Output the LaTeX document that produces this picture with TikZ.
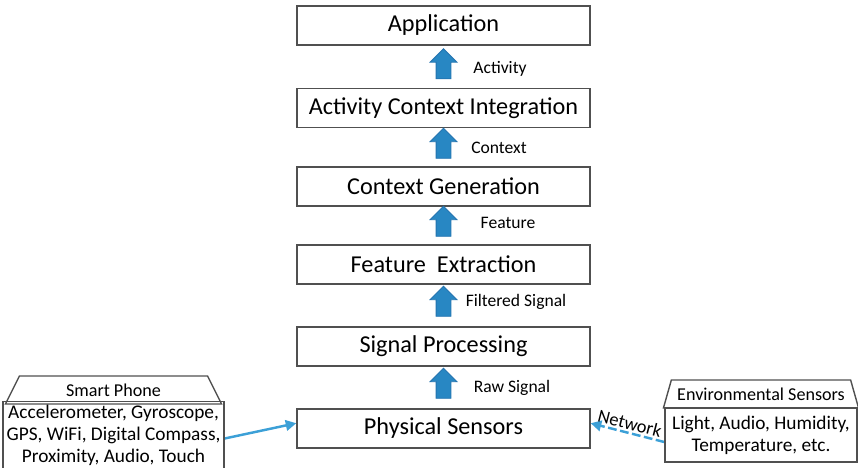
\documentclass[tikz,border=0pt]{standalone}
\usepackage{fontspec}
\setmainfont{Carlito}
\usetikzlibrary{backgrounds,shapes.geometric,shapes.arrows,arrows.meta}
\pgfdeclarelayer{edgelayer}
\pgfdeclarelayer{nodelayer}
\pgfsetlayers{edgelayer,nodelayer,main}
\definecolor{lineblue}{RGB}{60,160,215}
\definecolor{arrowmid}{RGB}{165,220,245}
\definecolor{arrowside}{RGB}{40,135,195}
\definecolor{arrowedge}{RGB}{35,115,175}
\definecolor{boxedge}{RGB}{80,80,80}
\tikzset{font=\fontsize{10}{12}\selectfont}
\tikzstyle{none}=[inner sep=0pt]
\tikzstyle{layer}=[rectangle,draw=boxedge,line width=0.8pt,minimum width=5.86cm,minimum height=0.78cm,font=\fontsize{13.8}{16}\selectfont]
\tikzstyle{flow}=[single arrow,shape border rotate=90,draw=arrowedge,line width=0.5pt,inner sep=0.14cm,single arrow head extend=0.12cm,minimum height=0.6cm,left color=arrowside,middle color=arrowmid,right color=arrowside]
\tikzstyle{tag}=[inner sep=1pt]
\tikzstyle{roof}=[trapezium,trapezium stretches=true,trapezium left angle=72,trapezium right angle=72,draw=boxedge,line width=0.8pt,minimum height=0.56cm,font=\fontsize{10.3}{12}\selectfont]
\tikzstyle{body}=[rectangle,draw=boxedge,line width=0.8pt,align=center,inner sep=2pt,font=\fontsize{11}{12.5}\selectfont]
\tikzstyle{link}=[draw=lineblue,line width=1.4pt,-{Triangle[length=6pt,width=6pt]}]

\begin{document}
\begin{tikzpicture}
	\useasboundingbox (0,0) rectangle (17.16,9.36);
	\begin{pgfonlayer}{nodelayer}
		\node [style=layer] (0) at (8.87, 8.85) {Application};
		\node [style=layer] (1) at (8.87, 7.2) {Activity Context Integration};
		\node [style=layer] (2) at (8.87, 5.63) {Context Generation};
		\node [style=layer] (3) at (8.87, 4.07) {Feature\ \ Extraction};
		\node [style=layer] (4) at (8.87, 2.43) {Signal Processing};
		\node [style=layer] (5) at (8.87, 0.79) {Physical Sensors};
		\node [style=flow] (6) at (8.87, 8.01) {};
		\node [style=flow] (7) at (8.87, 6.42) {};
		\node [style=flow] (8) at (8.87, 4.86) {};
		\node [style=flow] (9) at (8.87, 3.26) {};
		\node [style=flow] (10) at (8.87, 1.62) {};
		\node [style=tag] (11) at (10.0, 7.98) {Activity};
		\node [style=tag] (12) at (9.98, 6.4) {Context};
		\node [style=tag] (13) at (10.16, 4.9) {Feature};
		\node [style=tag] (14) at (10.32, 3.32) {Filtered Signal};
		\node [style=tag] (15) at (10.24, 1.6) {Raw Signal};
		\node [style=roof,minimum width=4.34cm] (16) at (2.27, 1.56) {Smart Phone};
		\node [style=body,minimum width=4.34cm,minimum height=1.24cm] (17) at (2.27, 0.66) {Accelerometer, Gyroscope,\\GPS, WiFi, Digital Compass,\\Proximity, Audio, Touch};
		\node [style=roof,minimum width=3.84cm] (18) at (15.22, 1.48) {Environmental Sensors};
		\node [style=body,minimum width=3.84cm,minimum height=1.08cm] (19) at (15.22, 0.66) {Light, Audio, Humidity,\\Temperature, etc.};
	\end{pgfonlayer}
	\begin{pgfonlayer}{edgelayer}
		\draw [style=link] ([yshift=-2pt]17.east) to ([yshift=3pt]5.west);
		\draw [style=link,dashed,dash pattern=on 5pt off 2pt] ([yshift=-4pt]19.west) to node [sloped,above,inner sep=1pt,font=\fontsize{10.5}{12}\selectfont] {Network} ([yshift=3pt]5.east);
	\end{pgfonlayer}
\end{tikzpicture}
\end{document}
